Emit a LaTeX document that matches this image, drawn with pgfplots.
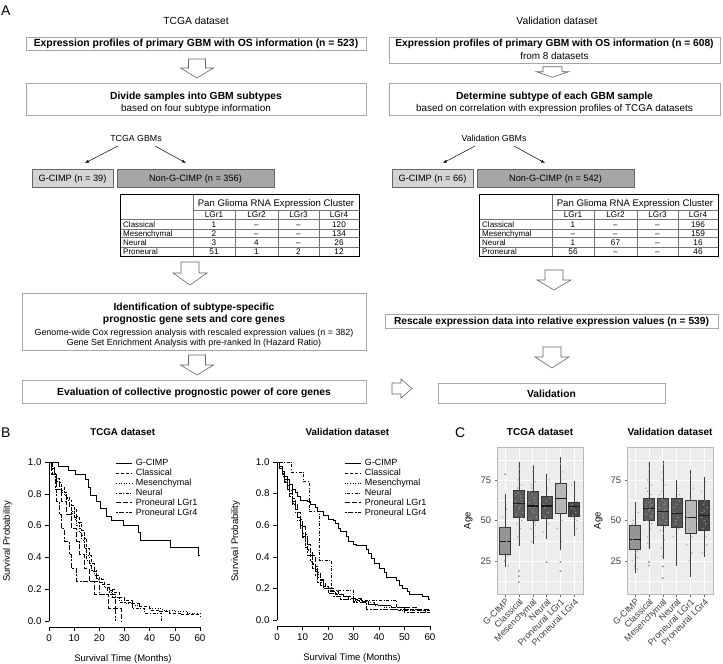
\documentclass[border=0pt]{standalone}
\usepackage{fontspec}
\setmainfont{Liberation Sans}
\usepackage{pgfplots}
\pgfplotsset{compat=1.18}
\usepgfplotslibrary{statistics}
\usetikzlibrary{arrows.meta}
\newcommand\fz[1]{\fontsize{#1}{#1}\selectfont}
\newcommand{\harrow}[6]{\draw[line width=0.6pt, draw=black!60, fill=white] (#1-#5,#2) -- (#1+#5,#2) -- (#1+#5,#3) -- (#1+#6,#3) -- (#1,#4) -- (#1-#6,#3) -- (#1-#5,#3) -- cycle;}
\pgfplotsset{
 survax/.style={scale only axis, xmin=0, xmax=60, ymin=0, ymax=1, clip=false,
   axis lines*=left, axis line style={black, line width=0.6pt},
   x axis line style={yshift=-6.4pt},
   xtick={0,10,...,60}, ytick={0,0.2,...,1.0},
   xtick style={yshift=-6.4pt, black, line width=0.6pt},
   ytick style={black, line width=0.6pt},
   tick align=outside, major tick length=4pt,
   xticklabel style={yshift=-6.4pt},
   /pgf/number format/assume math mode=true,
   tick label style={font=\fz{9.8}},
   yticklabel style={/pgf/number format/.cd, fixed, fixed zerofill, precision=1},
   label style={font=\fz{9.5}},
   xlabel={Survival Time (Months)}, ylabel={Survival Probability},
   legend style={draw=none, fill=none, font=\fz{9}, inner sep=0pt, row sep=0.6pt,
     cells={anchor=west}, nodes={inner sep=0.6pt}},
   legend image code/.code={\draw[#1] (0pt,0pt) -- (16pt,0pt);},
   /tikz/every odd column/.append style={column sep=3pt},
 },
 gc/.style={black, line width=0.7pt, const plot},
 cl/.style={black, line width=0.7pt, const plot, dash pattern=on 3pt off 2pt},
 me/.style={black, line width=0.7pt, const plot, dash pattern=on 1pt off 1.6pt},
 ne/.style={black, line width=0.7pt, const plot, dash pattern=on 1pt off 1.6pt on 3pt off 1.6pt},
 p1/.style={black, line width=0.7pt, const plot, dash pattern=on 5pt off 2pt},
 p4/.style={black, line width=0.7pt, const plot, dash pattern=on 1.8pt off 1.6pt on 5pt off 1.6pt},
 boxax/.style={scale only axis, width=85.5pt, height=146.7pt, xmin=-0.57, xmax=5.62, ymin=4.6, ymax=95.2,
   axis background/.style={fill=black!7}, axis line style={black!28, line width=0.6pt},
   xtick={0,...,5}, xticklabels={G-CIMP,Classical,Mesenchymal,Neural,Proneural LGr1,Proneural LGr4},
   xticklabel style={rotate=45, anchor=north east, font=\fz{9}, text=black!75, inner sep=1pt},
   ytick={25,50,75}, minor ytick={12.5,37.5,62.5,87.5},
   xmajorgrids, ymajorgrids, yminorgrids,
   major grid style={white, line width=0.8pt}, minor grid style={white, line width=0.4pt},
   tick align=outside, major tick length=2.5pt, minor tick length=0pt,
   xtick pos=bottom, ytick pos=left,
   tick style={black!60, line width=0.5pt},
   /pgf/number format/assume math mode=true,
   yticklabel style={font=\fz{9.5}, text=black!75},
   ylabel={Age}, ylabel style={font=\fz{9.5}},
   title style={font=\bfseries\fz{10}, at={(rel axis cs:0.5,1)}, anchor=base, yshift=6pt},
   boxplot/draw direction=y,
   boxplot/whisker extend=0, boxplot/box extend=0.8,
   boxplot/every median/.style={line width=1.2pt, black!90},
   boxplot/every whisker/.style={black!75, line width=0.6pt},
   boxplot/every box/.style={draw=black!78, line width=0.6pt},
 },
 bxo/.style={mark=*, mark size=0.7pt, mark options={draw=black!45, fill=black!45}},
 jit/.style={only marks, mark=*, mark size=0.5pt, mark options={draw=black!38, fill=black!38, opacity=0.75}},
}
\begin{document}
\begin{tikzpicture}
\useasboundingbox (0,0) rectangle (723pt,-664pt);
\begin{scope}[x=1pt,y=-1pt, every node/.style={inner sep=0pt}]
 \tikzset{fbox/.style={draw=black!35, line width=0.7pt}}
 \node[anchor=base west, font=\fz{14}] at (1,15) {A};
 \node[anchor=base, font=\fz{10.3}] at (196,24) {TCGA dataset};
 \node[anchor=base, font=\fz{10.3}] at (557,24) {Validation dataset};
 % row 1
 \draw[fbox] (26,37) rectangle (366,50);
 \node[anchor=base, font=\bfseries\fz{10.4}] at (196,46.7) {Expression profiles of primary GBM with OS information (n = 523)};
 \draw[fbox] (389,37) rectangle (720,63);
 \node[anchor=base, font=\bfseries\fz{10.2}] at (554.5,46.7) {Expression profiles of primary GBM with OS information (n = 608)};
 \node[anchor=base, font=\fz{9.9}] at (554.5,59.5) {from 8 datasets};
 \harrow{197}{59}{68}{78}{8.5}{16.5}
 \harrow{552.5}{66.7}{71.7}{77.3}{9.5}{16}
 % row 2
 \draw[fbox] (26,83) rectangle (366,115);
 \node[anchor=base, font=\bfseries\fz{10.3}] at (196,99) {Divide samples into GBM subtypes};
 \node[anchor=base, font=\fz{9.9}] at (196,111) {based on four subtype information};
 \draw[fbox] (389,83) rectangle (720,115);
 \node[anchor=base, font=\bfseries\fz{10.3}] at (554.5,99) {Determine subtype of each GBM sample};
 \node[anchor=base, font=\fz{9.9}] at (554.5,111) {based on correlation with expression profiles of TCGA datasets};
 % GBM split
 \node[anchor=base, font=\fz{8.8}] at (136,141.5) {TCGA GBMs};
 \draw[line width=0.5pt, -{Latex[length=4pt,width=3pt]}] (118,146) -- (85,163);
 \draw[line width=0.5pt, -{Latex[length=4pt,width=3pt]}] (155,146) -- (186,163);
 \node[anchor=base, font=\fz{8.8}] at (494,141.5) {Validation GBMs};
 \draw[line width=0.5pt, -{Latex[length=4pt,width=3pt]}] (475,146) -- (443,163);
 \draw[line width=0.5pt, -{Latex[length=4pt,width=3pt]}] (514,146) -- (545,163);
 \draw[draw=black!60, fill=black!17, line width=0.6pt] (32,169) rectangle (113,187);
 \node[anchor=base, font=\fz{9.2}] at (72.5,181.5) {G-CIMP (n = 39)};
 \draw[draw=black!60, fill=black!35, line width=0.6pt] (117,169) rectangle (274,187);
 \node[anchor=base, font=\fz{9.2}] at (195.5,181.5) {Non-G-CIMP (n = 356)};
 \draw[draw=black!60, fill=black!17, line width=0.6pt] (392,169) rectangle (473,187);
 \node[anchor=base, font=\fz{9.2}] at (432.5,181.5) {G-CIMP (n = 66)};
 \draw[draw=black!60, fill=black!35, line width=0.6pt] (477,169) rectangle (634,187);
 \node[anchor=base, font=\fz{9.2}] at (555.5,181.5) {Non-G-CIMP (n = 542)};
 % tables
 \foreach \dx/\a/\b/\c/\d/\e/\f/\g/\h/\i/\j/\k/\l/\m/\n/\o/\p in
   {0/1/--/--/120/2/--/--/134/3/4/--/26/51/1/2/12, 359/1/--/--/196/--/--/--/159/1/67/--/16/56/--/--/46}{
  \begin{scope}[xshift=\dx pt]
   \draw[black!55, line width=0.4pt] (193,210) -- (359,210);
   \foreach \yy in {219.3,228.7,237.3,246.7} {\draw[black!55, line width=0.4pt] (120,\yy) -- (359,\yy);}
   \foreach \xx in {235,278,319} {\draw[black!55, line width=0.4pt] (\xx,210) -- (\xx,256);}
   \draw[black!55, line width=0.4pt] (193,194) -- (193,256);
   \draw[black, line width=0.7pt] (120,194) rectangle (359,256);
   \node[anchor=base, font=\fz{9.6}] at (276,206) {Pan Glioma RNA Expression Cluster};
   \node[anchor=base, font=\fz{8.2}] at (214,217.8) {LGr1};
   \node[anchor=base, font=\fz{8.2}] at (256.5,217.8) {LGr2};
   \node[anchor=base, font=\fz{8.2}] at (298.5,217.8) {LGr3};
   \node[anchor=base, font=\fz{8.2}] at (339,217.8) {LGr4};
   \node[anchor=base west, font=\fz{8}] at (123,227.3) {Classical};
   \node[anchor=base west, font=\fz{8}] at (123,236.2) {Mesenchymal};
   \node[anchor=base west, font=\fz{8}] at (123,245.3) {Neural};
   \node[anchor=base west, font=\fz{8}] at (123,254.6) {Proneural};
   \node[anchor=base, font=\fz{8.2}] at (214,227.3) {\a};
   \node[anchor=base, font=\fz{8.2}] at (256.5,227.3) {\b};
   \node[anchor=base, font=\fz{8.2}] at (298.5,227.3) {\c};
   \node[anchor=base, font=\fz{8.2}] at (339,227.3) {\d};
   \node[anchor=base, font=\fz{8.2}] at (214,236.2) {\e};
   \node[anchor=base, font=\fz{8.2}] at (256.5,236.2) {\f};
   \node[anchor=base, font=\fz{8.2}] at (298.5,236.2) {\g};
   \node[anchor=base, font=\fz{8.2}] at (339,236.2) {\h};
   \node[anchor=base, font=\fz{8.2}] at (214,245.3) {\i};
   \node[anchor=base, font=\fz{8.2}] at (256.5,245.3) {\j};
   \node[anchor=base, font=\fz{8.2}] at (298.5,245.3) {\k};
   \node[anchor=base, font=\fz{8.2}] at (339,245.3) {\l};
   \node[anchor=base, font=\fz{8.2}] at (214,254.6) {\m};
   \node[anchor=base, font=\fz{8.2}] at (256.5,254.6) {\n};
   \node[anchor=base, font=\fz{8.2}] at (298.5,254.6) {\o};
   \node[anchor=base, font=\fz{8.2}] at (339,254.6) {\p};
  \end{scope}
 }
 \harrow{190}{262}{273}{285}{9}{17}
 \harrow{554}{270}{280}{290}{9}{17}
 % identification
 \draw[fbox] (22,293) rectangle (366,350);
 \node[anchor=base, font=\bfseries\fz{10.3}] at (194,310) {Identification of subtype-specific};
 \node[anchor=base, font=\bfseries\fz{10.3}] at (194,322) {prognostic gene sets and core genes};
 \node[anchor=base, font=\fz{8.9}] at (194,335.5) {Genome-wide Cox regression analysis with rescaled expression values (n = 382)};
 \node[anchor=base, font=\fz{8.9}] at (194,345.5) {Gene Set Enrichment Analysis with pre-ranked ln (Hazard Ratio)};
 \draw[fbox] (385,314) rectangle (718,328);
 \node[anchor=base, font=\bfseries\fz{10.2}] at (551.5,324.8) {Rescale expression data into relative expression values (n = 539)};
 \harrow{197}{355}{365}{375}{8.5}{16.5}
 \harrow{552}{347}{357}{368}{9}{17}
 \draw[fbox] (22,380) rectangle (366,403);
 \node[anchor=base, font=\bfseries\fz{10.3}] at (194,395.5) {Evaluation of collective prognostic power of core genes};
 \draw[line width=0.6pt, draw=black!60, fill=white] (392,383) -- (401,383) -- (401,379) -- (412,388.5) -- (401,398) -- (401,394) -- (392,394) -- cycle;
 \draw[fbox] (438,383) rectangle (665,403);
 \node[anchor=base, font=\bfseries\fz{10.3}] at (551.5,397) {Validation};
 \node[anchor=base west, font=\fz{14}] at (1,437.7) {B};
 \node[anchor=base west, font=\fz{14}] at (455,437.7) {C};
\end{scope}

% ---------- survival TCGA
\begin{axis}[survax, at={(49pt,-621pt)}, anchor=south west, width=151pt, height=159pt,
  title={\bfseries TCGA dataset}, title style={font=\fz{9.8}, at={(rel axis cs:0.488,1)}, anchor=base, yshift=21pt},
  xlabel style={at={(rel axis cs:0.49,-0.24)}, anchor=center},
  ylabel style={at={(rel axis cs:-0.275,0.5)}, anchor=center},
  legend style={at={(0.44,1.02)}, anchor=north west}]
\addplot[gc] coordinates {(0,1) (3.7,0.975) (7.7,0.95) (10.3,0.92) (14.3,0.89) (15.6,0.84) (16.3,0.79) (18.9,0.75) (20.3,0.71) (22.9,0.66) (24.9,0.63) (29.5,0.6) (35.5,0.555) (36.2,0.51) (48.1,0.465) (59.3,0.41) (60,0.41)};
\addlegendentry{G-CIMP}
\addplot[cl] coordinates {(0,1) (1,0.97) (2,0.93) (3,0.9) (4,0.87) (5,0.84) (6,0.81) (7,0.78) (8,0.76) (9,0.73) (10,0.7) (11,0.66) (12,0.62) (13,0.57) (14,0.52) (15,0.46) (16,0.41) (17,0.36) (18,0.32) (19,0.29) (20,0.26) (22,0.23) (24,0.2) (26,0.18) (28,0.15) (30,0.13) (33,0.11) (36,0.09) (40,0.07) (44,0.06) (48,0.05) (52,0.04) (56,0.04) (60,0.03)};
\addlegendentry{Classical}
\addplot[me] coordinates {(0,1) (1,0.96) (2,0.92) (3,0.88) (4,0.85) (5,0.82) (6,0.79) (7,0.76) (8,0.72) (9,0.68) (10,0.64) (11,0.6) (12,0.56) (13,0.51) (14,0.46) (15,0.41) (16,0.36) (17,0.32) (18,0.29) (19,0.26) (20,0.24) (22,0.21) (24,0.18) (26,0.15) (28,0.13) (30,0.11) (33,0.1) (36,0.09) (40,0.08) (45,0.07) (50,0.06) (55,0.05) (60,0.04)};
\addlegendentry{Mesenchymal}
\addplot[ne] coordinates {(0,1) (1,0.96) (2,0.92) (3,0.88) (4,0.85) (5,0.81) (7,0.77) (8,0.73) (9,0.69) (10,0.65) (11,0.62) (12,0.58) (13,0.54) (14,0.46) (15,0.38) (16,0.35) (17,0.31) (19,0.27) (21,0.23) (23,0.19) (25,0.15) (28,0.12) (33,0.08) (38,0.05) (44.8,0) };
\addlegendentry{Neural}
\addplot[p1] coordinates {(0,1) (1,0.92) (3,0.83) (5,0.75) (7,0.67) (9,0.58) (11,0.5) (12,0.42) (14,0.33) (16,0.25) (18,0.17) (23.5,0.08) (28.8,0) };
\addlegendentry{Proneural LGr1}
\addplot[p4] coordinates {(0,1) (1.5,0.92) (2.5,0.83) (3,0.75) (4,0.67) (5,0.58) (6,0.5) (8,0.42) (9,0.33) (11,0.25) (20,0.17) (26.2,0) };
\addlegendentry{Proneural LGr4}
\end{axis}

% ---------- survival Validation
\begin{axis}[survax, at={(277pt,-620pt)}, anchor=south west, width=153pt, height=158pt,
  title={\bfseries Validation dataset}, title style={font=\fz{9.8}, at={(rel axis cs:0.46,1)}, anchor=base, yshift=21pt},
  xlabel style={at={(rel axis cs:0.49,-0.24)}, anchor=center},
  ylabel style={at={(rel axis cs:-0.27,0.5)}, anchor=center},
  legend style={at={(0.44,1.02)}, anchor=north west}]
\addplot[gc] coordinates {(0,1) (1,0.97) (2,0.94) (3,0.91) (4,0.89) (5,0.86) (6,0.83) (7,0.81) (8,0.78) (9,0.76) (12,0.75) (13,0.73) (15,0.71) (16,0.69) (18,0.66) (20,0.64) (22,0.63) (23,0.61) (24,0.58) (25,0.56) (27,0.53) (28,0.5) (30,0.48) (31,0.47) (35,0.45) (36,0.42) (37,0.39) (38,0.36) (40,0.33) (42,0.3) (43,0.27) (47,0.25) (48,0.22) (49,0.2) (51,0.18) (52,0.16) (57,0.15) (59.5,0.13) (60,0.13)};
\addlegendentry{G-CIMP}
\addplot[cl] coordinates {(0,1) (1,0.97) (2,0.93) (3,0.89) (4,0.85) (5,0.8) (6,0.75) (7,0.7) (8,0.65) (9,0.6) (10,0.55) (11,0.5) (12,0.45) (13,0.41) (14,0.36) (15,0.32) (16,0.29) (17,0.26) (18,0.23) (19,0.21) (20,0.2) (22,0.18) (24,0.16) (26,0.15) (28,0.14) (30,0.13) (33,0.12) (36,0.1) (40,0.09) (45,0.08) (50,0.07) (55,0.06) (58,0.05) (60,0.04)};
\addlegendentry{Classical}
\addplot[me] coordinates {(0,1) (1,0.96) (2,0.92) (3,0.88) (4,0.83) (5,0.78) (6,0.73) (7,0.68) (8,0.63) (9,0.58) (10,0.53) (11,0.48) (12,0.44) (13,0.4) (14,0.35) (15,0.31) (16,0.27) (17,0.24) (18,0.22) (19,0.2) (20,0.19) (22,0.17) (24,0.16) (26,0.15) (28,0.13) (30,0.12) (34,0.11) (38,0.09) (42,0.08) (46,0.08) (50,0.07) (55,0.07) (58,0.06) (60,0.06)};
\addlegendentry{Mesenchymal}
\addplot[ne] coordinates {(0,1) (5.7,0.9375) (10.3,0.875) (12.5,0.6875) (16.5,0.375) (21.5,0.1875) (30,0.125) (47,0.0625) (60,0.0625)};
\addlegendentry{Neural}
\addplot[p1] coordinates {(0,1) (1,0.96) (2,0.93) (3,0.89) (4,0.86) (5,0.82) (6,0.77) (7,0.73) (8,0.68) (9,0.64) (10,0.59) (11,0.54) (12,0.48) (13,0.43) (14,0.41) (15,0.34) (16,0.3) (17,0.25) (18,0.21) (19,0.2) (21,0.18) (23,0.16) (26,0.15) (30,0.14) (33,0.12) (36,0.1) (40,0.09) (45,0.08) (50,0.08) (55,0.07) (60,0.07)};
\addlegendentry{Proneural LGr1}
\addplot[p4] coordinates {(0,1) (1,0.96) (2,0.91) (3,0.87) (4,0.83) (5,0.78) (6,0.74) (7,0.7) (8,0.65) (9,0.59) (10,0.52) (11,0.46) (12,0.41) (13,0.37) (14,0.33) (15,0.28) (16,0.24) (17,0.22) (18,0.2) (20,0.17) (22,0.15) (25,0.13) (30,0.11) (35,0.07) (40,0.07) (45,0.07) (50,0.05) (55,0.05) (60,0.05)};
\addlegendentry{Proneural LGr4}
\end{axis}

% ---------- boxplot TCGA
\begin{axis}[boxax, at={(497.3pt,-594pt)}, anchor=south west, title={TCGA dataset},
  ylabel style={at={(rel axis cs:-0.34,0.5)}, anchor=center}]
\addplot[boxplot prepared={draw position=0, median=37, upper quartile=45.6, lower quartile=29.4, upper whisker=66.6, lower whisker=21.5}, fill=black!42, bxo] coordinates {(0,78.6)};
\addplot[boxplot prepared={draw position=1, median=60.6, upper quartile=68.8, lower quartile=51.9, upper whisker=86.2, lower whisker=34.3}, fill=black!64, bxo] coordinates {(1,18.8) (1,15.7) (1,12)};
\addplot[boxplot prepared={draw position=2, median=59, upper quartile=68.3, lower quartile=50.2, upper whisker=84.2, lower whisker=35.4}, fill=black!62, bxo] coordinates {};
\addplot[boxplot prepared={draw position=3, median=58.9, upper quartile=65.2, lower quartile=51.5, upper whisker=78.9, lower whisker=38.6}, fill=black!66, bxo] coordinates {(3,24.2)};
\addplot[boxplot prepared={draw position=4, median=63.5, upper quartile=72.7, lower quartile=54.6, upper whisker=89.1, lower whisker=31.7}, fill=black!28, bxo] coordinates {(4,24.4) (4,18.8)};
\addplot[boxplot prepared={draw position=5, median=58.6, upper quartile=61.3, lower quartile=52.5, upper whisker=74.6, lower whisker=40.3}, fill=black!72, bxo] coordinates {};
\addplot[jit] coordinates {(-0.2,38) (0.1,42) (0.25,35) (-0.1,31) (0.15,44) (-0.25,40) (0.05,33) (0.2,28) (-0.15,46) (0.1,37) (-0.05,25) (0.22,22) (-0.2,52) (0.12,57) (0,63) (-0.1,36) (0.18,30) (-0.22,41)
 (0.8,60) (1.1,65) (1.25,55) (0.9,70) (1.15,52) (0.75,62) (1.05,58) (1.2,72) (0.85,48) (1.0,78) (1.1,45) (0.95,67) (1.22,61) (0.8,54) (1.05,82) (0.9,40) (1.15,63) (1.0,57) (0.78,66) (1.2,50) (0.88,75) (1.1,59)
 (1.8,58) (2.1,64) (2.25,52) (1.9,70) (2.15,49) (1.75,61) (2.05,55) (2.2,74) (1.85,45) (2.0,80) (2.1,40) (1.95,66) (2.22,60) (1.8,51) (2.05,84) (1.9,37) (2.15,62) (2.0,56) (1.78,68) (2.2,47) (1.88,72) (2.1,58)
 (2.8,60) (3.1,55) (3.2,64) (2.9,52) (3.05,70) (2.85,58) (3.15,48) (3.0,62) (2.75,43) (3.2,75)
 (3.8,65) (4.1,60) (4.2,70) (3.9,56) (4.05,75) (3.85,63) (4.15,50) (4.0,68) (3.75,45) (4.2,80) (3.95,58) (4.1,37) (3.8,72) (4.0,85)
 (4.8,58) (5.1,55) (5.2,62) (4.9,53) (5.05,68) (4.85,60) (5.15,45) (5.0,57) (4.8,72) (5.2,50)};
\end{axis}

% ---------- boxplot Validation
\begin{axis}[boxax, at={(627.3pt,-594pt)}, anchor=south west, title={Validation dataset},
  ylabel style={at={(rel axis cs:-0.34,0.5)}, anchor=center}]
\addplot[boxplot prepared={draw position=0, median=38.3, upper quartile=47, lower quartile=32.5, upper whisker=61.3, lower whisker=17.7}, fill=black!42, bxo] coordinates {};
\addplot[boxplot prepared={draw position=1, median=57.6, upper quartile=63.8, lower quartile=50, upper whisker=86, lower whisker=32.1}, fill=black!64, bxo] coordinates {(1,24.3) (1,22.2)};
\addplot[boxplot prepared={draw position=2, median=55.7, upper quartile=64, lower quartile=47, upper whisker=86.6, lower whisker=26.4}, fill=black!62, bxo] coordinates {(2,21.6) (2,14.4)};
\addplot[boxplot prepared={draw position=3, median=54.5, upper quartile=64, lower quartile=45.5, upper whisker=75.3, lower whisker=22.2}, fill=black!66, bxo] coordinates {};
\addplot[boxplot prepared={draw position=4, median=52, upper quartile=62.3, lower quartile=42.2, upper whisker=80.9, lower whisker=15.4}, fill=black!28, bxo] coordinates {};
\addplot[boxplot prepared={draw position=5, median=53.1, upper quartile=62.3, lower quartile=43.8, upper whisker=76.7, lower whisker=27.3}, fill=black!72, bxo] coordinates {};
\addplot[jit] coordinates {(-0.2,38) (0.1,42) (0.25,35) (-0.1,33) (0.15,45) (-0.25,40) (0.05,30) (0.2,27) (-0.15,50) (0.1,37) (-0.05,22) (0.22,55) (-0.2,48) (0.12,35) (0,44) (-0.1,39) (0.18,31) (-0.22,25) (0.05,58) (0.15,20)
 (0.8,58) (1.1,62) (1.25,55) (0.9,68) (1.15,52) (0.75,60) (1.05,57) (1.2,72) (0.85,50) (1.0,78) (1.1,45) (0.95,64) (1.22,60) (0.8,54) (1.05,82) (0.9,40) (1.15,66) (1.0,56) (0.78,70) (1.2,48) (0.88,75) (1.1,59) (0.92,36) (1.18,53) (1.0,61)
 (1.8,55) (2.1,60) (2.25,50) (1.9,68) (2.15,48) (1.75,58) (2.05,52) (2.2,72) (1.85,44) (2.0,80) (2.1,38) (1.95,63) (2.22,57) (1.8,49) (2.05,85) (1.9,33) (2.15,61) (2.0,54) (1.78,66) (2.2,46) (1.88,75) (2.1,56) (1.95,28) (2.05,42)
 (2.8,58) (3.1,52) (3.2,62) (2.9,48) (3.05,70) (2.85,55) (3.15,45) (3.0,60) (2.75,40) (3.2,66) (2.95,50)
 (3.8,52) (4.1,48) (4.2,58) (3.9,45) (4.05,62) (3.85,55) (4.15,40) (4.0,50) (3.75,35) (4.2,70) (3.95,44) (4.1,30) (3.8,60) (4.0,78) (3.9,25) (4.15,53)
 (4.8,52) (5.1,48) (5.2,58) (4.9,45) (5.05,62) (4.85,55) (5.15,40) (5.0,50) (4.8,68) (5.2,35) (4.95,60) (5.1,74) (4.85,30) (5.0,56)};
\end{axis}
\end{tikzpicture}
\end{document}
